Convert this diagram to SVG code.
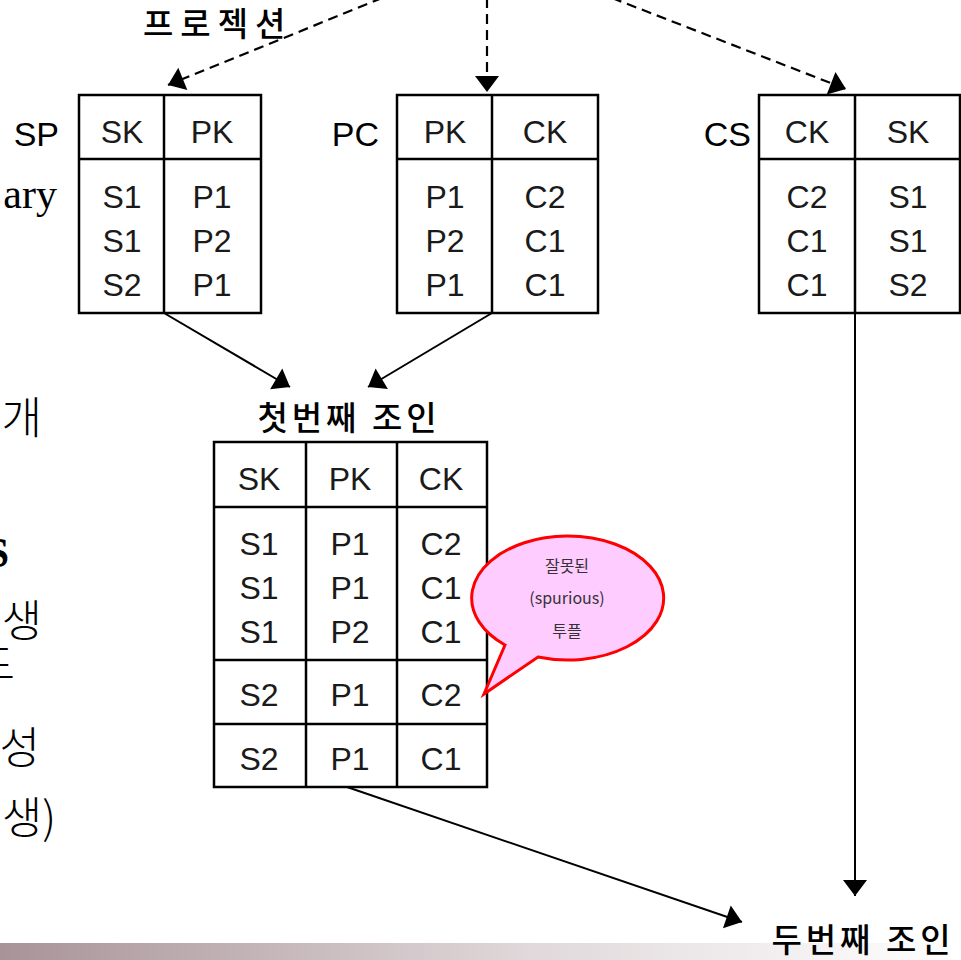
<svg xmlns="http://www.w3.org/2000/svg" width="961" height="960" viewBox="0 0 961 960">
<style>
.tb{fill:none;stroke:#000;stroke-width:2.5}
.cell{font-family:"Liberation Sans","Noto Sans CJK KR",sans-serif;font-size:32px;fill:#1a1a1a;text-anchor:middle}
.lbl{font-family:"Liberation Sans","Noto Sans CJK KR",sans-serif;font-size:34px;fill:#000;text-anchor:end}
.kor{font-family:"Noto Sans CJK KR",sans-serif;font-size:33px;font-weight:500;fill:#000;letter-spacing:4px}
.side{font-family:"Noto Sans CJK KR",sans-serif;font-size:44px;font-weight:300;fill:#000;text-anchor:end}
.ser{font-family:"Liberation Serif",serif;font-size:42px;fill:#000;text-anchor:end}
.conn{stroke:#000;stroke-width:2;fill:none}
.dash{stroke:#000;stroke-width:2.2;fill:none;stroke-dasharray:10 6}
.call{font-family:"Noto Sans CJK KR","Liberation Sans",sans-serif;font-size:16px;fill:#333;text-anchor:middle}
</style>
<defs>
<marker id="ah" viewBox="0 0 10 10" refX="10" refY="5" markerWidth="10" markerHeight="10" markerUnits="userSpaceOnUse" orient="auto" style="overflow:visible">
<path d="M-6,-7 L10,5 L-6,17 z" fill="#000"/>
</marker>
<linearGradient id="bar" x1="0" x2="1" y1="0" y2="0">
<stop offset="0" stop-color="#a89398"/>
<stop offset="0.55" stop-color="#e0d8da"/>
<stop offset="1" stop-color="#ffffff"/>
</linearGradient>
</defs>
<rect width="961" height="960" fill="#fff"/>
<rect x="0" y="943" width="961" height="17" fill="url(#bar)"/>

<g id="side-text">
<text class="ser" x="57" y="208">ary</text>
<text class="side" x="42" y="434">개</text>
<text class="ser" x="9" y="567" font-weight="bold">S</text>
<text class="side" x="42" y="637">생</text>
<text class="side" x="15" y="681">드</text>
<text class="side" x="40" y="764">성</text>
<text class="side" x="56" y="834">생)</text>
</g>

<g id="projection-label">
<text class="kor" x="143" y="36" style="letter-spacing:7px">프로젝션</text>
</g>

<g id="connectors">
<line class="dash" x1="382" y1="-2" x2="168" y2="85" marker-end="url(#ah)"/>
<line class="dash" x1="487" y1="-2" x2="487" y2="92" marker-end="url(#ah)"/>
<line class="dash" x1="612" y1="-2" x2="846" y2="89" marker-end="url(#ah)"/>
<line class="conn" x1="164" y1="313" x2="290" y2="387" marker-end="url(#ah)"/>
<line class="conn" x1="492" y1="313" x2="368" y2="387" marker-end="url(#ah)"/>
<line class="conn" x1="855" y1="313" x2="855" y2="896" marker-end="url(#ah)"/>
<line class="conn" x1="347" y1="787" x2="742" y2="922" marker-end="url(#ah)"/>
</g>

<g id="SP">
<text class="lbl" x="59" y="146">SP</text>
<rect class="tb" x="79" y="95" width="182" height="218"/>
<line class="tb" x1="79" y1="159" x2="261" y2="159"/>
<line class="tb" x1="164" y1="95" x2="164" y2="313"/>
<text class="cell" x="122" y="143">SK</text>
<text class="cell" x="212" y="143">PK</text>
<text class="cell" x="122" y="208">S1</text>
<text class="cell" x="212" y="208">P1</text>
<text class="cell" x="122" y="252">S1</text>
<text class="cell" x="212" y="252">P2</text>
<text class="cell" x="122" y="296">S2</text>
<text class="cell" x="212" y="296">P1</text>
</g>

<g id="PC">
<text class="lbl" x="379" y="146">PC</text>
<rect class="tb" x="397" y="95" width="201" height="218"/>
<line class="tb" x1="397" y1="159" x2="598" y2="159"/>
<line class="tb" x1="492" y1="95" x2="492" y2="313"/>
<text class="cell" x="445" y="143">PK</text>
<text class="cell" x="545" y="143">CK</text>
<text class="cell" x="445" y="208">P1</text>
<text class="cell" x="545" y="208">C2</text>
<text class="cell" x="445" y="252">P2</text>
<text class="cell" x="545" y="252">C1</text>
<text class="cell" x="445" y="296">P1</text>
<text class="cell" x="545" y="296">C1</text>
</g>

<g id="CS">
<text class="lbl" x="751" y="146">CS</text>
<rect class="tb" x="759" y="95" width="201" height="218"/>
<line class="tb" x1="759" y1="159" x2="960" y2="159"/>
<line class="tb" x1="855" y1="95" x2="855" y2="313"/>
<text class="cell" x="807" y="143">CK</text>
<text class="cell" x="908" y="143">SK</text>
<text class="cell" x="807" y="208">C2</text>
<text class="cell" x="908" y="208">S1</text>
<text class="cell" x="807" y="252">C1</text>
<text class="cell" x="908" y="252">S1</text>
<text class="cell" x="807" y="296">C1</text>
<text class="cell" x="908" y="296">S2</text>
</g>

<g id="first-join">
<text class="kor" x="349" y="430" text-anchor="middle">첫번째 조인</text>
<rect class="tb" x="214" y="442" width="273" height="345"/>
<line class="tb" x1="214" y1="507" x2="487" y2="507"/>
<line class="tb" x1="214" y1="660" x2="487" y2="660"/>
<line class="tb" x1="214" y1="724" x2="487" y2="724"/>
<line class="tb" x1="306" y1="442" x2="306" y2="787"/>
<line class="tb" x1="397" y1="442" x2="397" y2="787"/>
<text class="cell" x="259" y="490">SK</text>
<text class="cell" x="350" y="490">PK</text>
<text class="cell" x="441" y="490">CK</text>
<text class="cell" x="259" y="555">S1</text>
<text class="cell" x="350" y="555">P1</text>
<text class="cell" x="441" y="555">C2</text>
<text class="cell" x="259" y="599">S1</text>
<text class="cell" x="350" y="599">P1</text>
<text class="cell" x="441" y="599">C1</text>
<text class="cell" x="259" y="643">S1</text>
<text class="cell" x="350" y="643">P2</text>
<text class="cell" x="441" y="643">C1</text>
<text class="cell" x="259" y="706">S2</text>
<text class="cell" x="350" y="706">P1</text>
<text class="cell" x="441" y="706">C2</text>
<text class="cell" x="259" y="770">S2</text>
<text class="cell" x="350" y="770">P1</text>
<text class="cell" x="441" y="770">C1</text>
</g>

<g id="callout">
<path d="M505,645 A96,62 0 1 1 538,657 L484,694 Z" fill="#ffccff" stroke="#ff0000" stroke-width="3" stroke-linejoin="miter"/>
<text class="call" x="567" y="572">잘못된</text>
<text class="call" x="567" y="604">(spurious)</text>
<text class="call" x="567" y="637">투플</text>
</g>

<g id="second-join">
<text class="kor" x="863" y="952" text-anchor="middle">두번째 조인</text>
</g>
</svg>
